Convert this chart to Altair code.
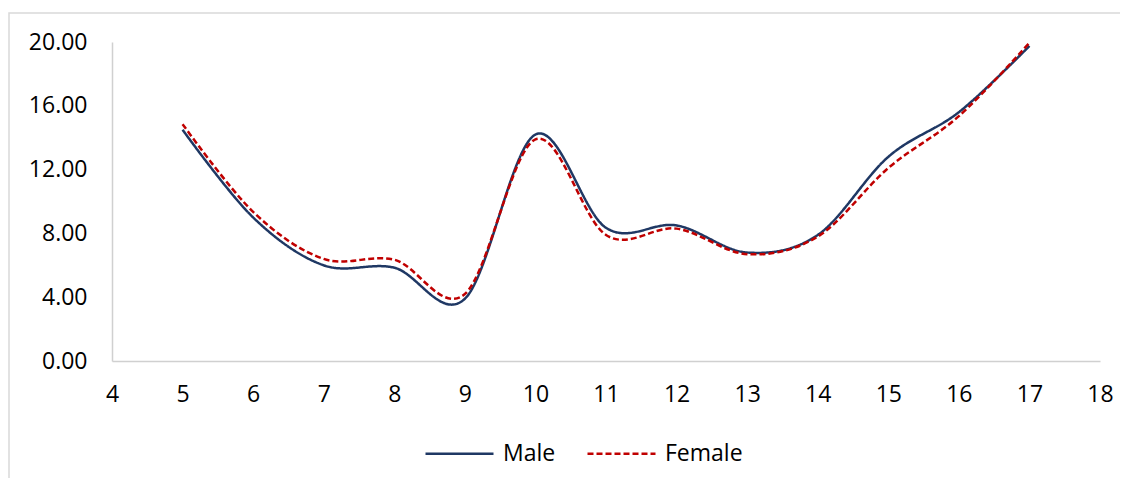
import altair as alt
import pandas as pd

ages = [5, 6, 7, 8, 9, 10, 11, 12, 13, 14, 15, 16, 17]
male = [14.5, 9.0, 6.0, 5.85, 3.9, 14.2, 8.35, 8.5, 6.8, 7.9, 12.8, 15.6, 19.75]
female = [14.85, 9.35, 6.4, 6.35, 4.2, 13.9, 7.9, 8.3, 6.7, 7.8, 12.1, 15.35, 19.95]
series = ["Male", "Female"]
x_ticks = list(range(4, 19))
y_ticks = [0, 4, 8, 12, 16, 20]

rows = []
for a, m, f in zip(ages, male, female):
    rows.append({"age": a, "value": m, "sex": "Male"})
    rows.append({"age": a, "value": f, "sex": "Female"})
df = pd.DataFrame(rows)

FONT = "Open Sans"
FS = 23

legend_kw = dict(title=None, orient="none", direction="horizontal",
                 legendX=312, legendY=376,
                 symbolType="stroke", symbolSize=4624,
                 symbolStrokeWidth=2.5, labelFont=FONT,
                 labelFontSize=FS, labelColor="#000000",
                 labelOffset=8, columnPadding=26)

lines = alt.Chart(df).mark_line(interpolate="cardinal", strokeWidth=2.5).encode(
    x=alt.X("age:Q",
            scale=alt.Scale(domain=[4, 18], nice=False, zero=False),
            axis=alt.Axis(values=x_ticks, title=None, grid=False, ticks=False,
                          domainColor="#D0D0D0", domainWidth=1.5,
                          labelFont=FONT, labelFontSize=FS, labelColor="#000000",
                          labelPadding=22, labelFlush=False)),
    y=alt.Y("value:Q",
            scale=alt.Scale(domain=[0, 20], nice=False),
            axis=alt.Axis(values=y_ticks, format=".2f", title=None, grid=False, ticks=False,
                          domainColor="#D0D0D0", domainWidth=1.5,
                          labelFont=FONT, labelFontSize=FS, labelColor="#000000",
                          labelPadding=25, labelFlush=False)),
    color=alt.Color("sex:N", sort=series,
                    scale=alt.Scale(domain=series, range=["#1F3864", "#C00000"]),
                    legend=alt.Legend(**legend_kw)),
    strokeDash=alt.StrokeDash("sex:N", sort=series,
                              scale=alt.Scale(domain=series, range=[[1, 0], [6, 3]]),
                              legend=alt.Legend(**legend_kw)),
    detail="sex:N",
)

frame = alt.Chart(pd.DataFrame({"k": [0]})).mark_rect(
    fill="transparent", stroke="#D9D9D9", strokeWidth=1.5
).encode(
    x=alt.value(-103), x2=alt.value(1200),
    y=alt.value(-29), y2=alt.value(600),
)

chart = alt.layer(frame, lines).properties(
    width=988, height=319,
    padding={"left": 104, "top": 34, "right": 20, "bottom": 117},
    autosize=alt.AutoSizeParams(type="none"),
).configure_view(stroke=None)

chart.save("out.html", embed_options={"renderer": "svg", "actions": False})
